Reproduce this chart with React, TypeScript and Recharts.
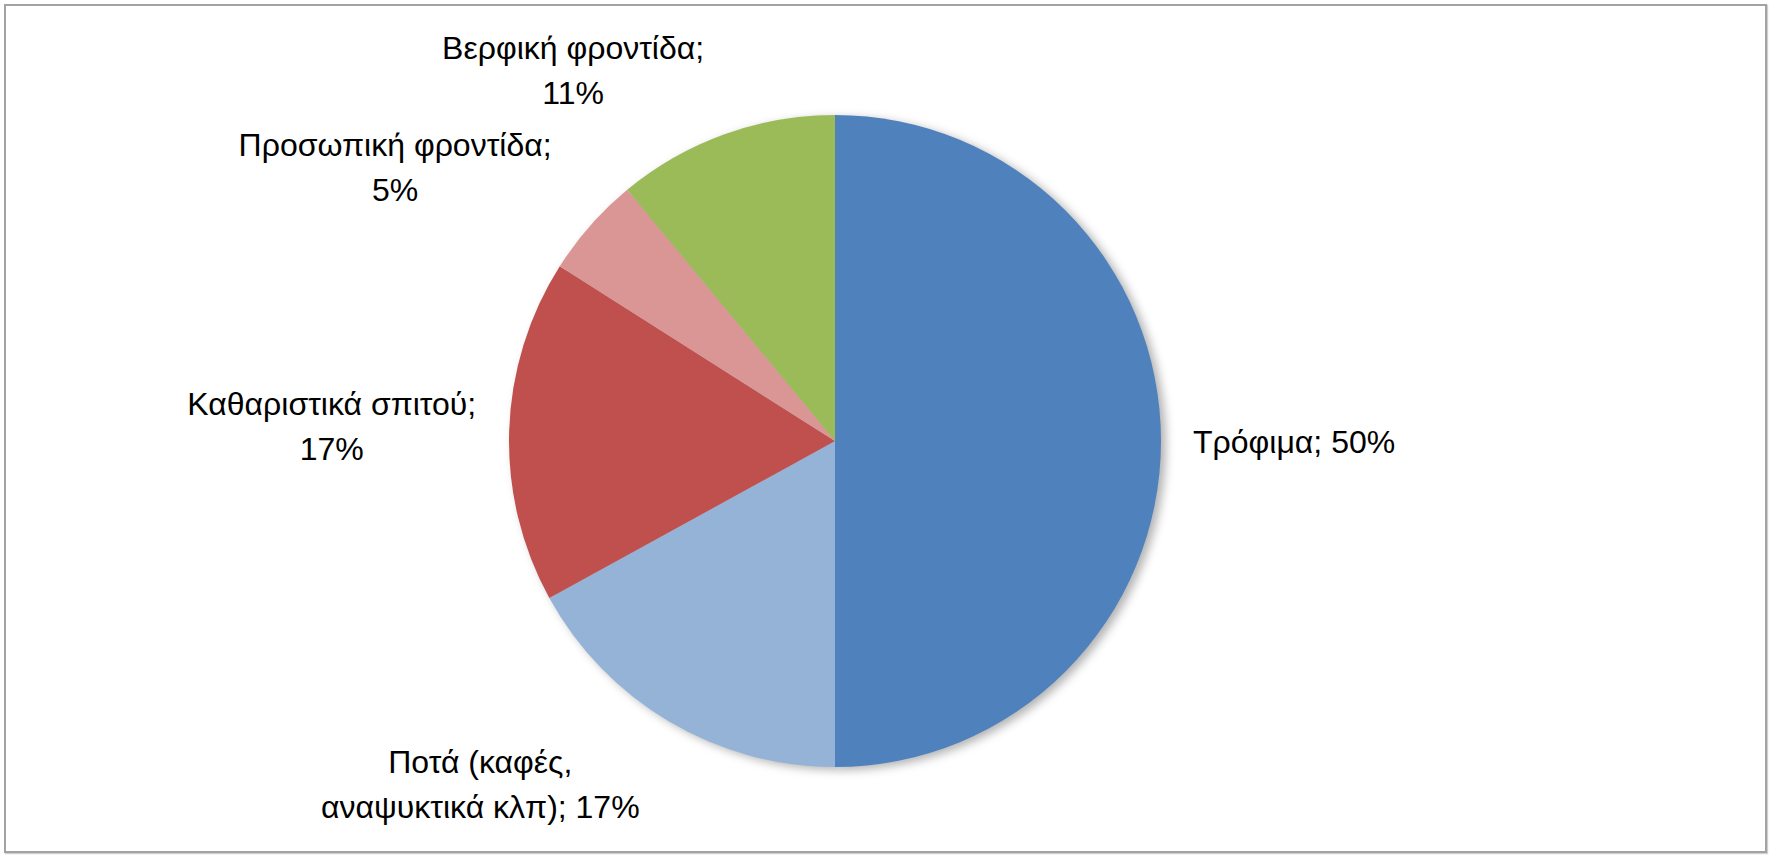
import { Cell, Pie, PieChart } from 'recharts';

// Household spending split.
const categories = [
  'Τρόφιμα',
  'Ποτά (καφές, αναψυκτικά κλπ)',
  'Καθαριστικά σπιτού',
  'Προσωπική φροντίδα',
  'Βερφική φροντίδα',
];
const shares = [50, 17, 17, 5, 11];
// Data labels as Excel wrapped them.
const labelLines = [
  ['Τρόφιμα; 50%'],
  ['Ποτά (καφές,', 'αναψυκτικά κλπ); 17%'],
  ['Καθαριστικά σπιτού;', '17%'],
  ['Προσωπική φροντίδα;', '5%'],
  ['Βερφική φροντίδα;', '11%'],
];
const colors = ['#4F81BD', '#95B3D7', '#C0504D', '#D99694', '#9BBB59'];

const data = categories.map((name, i) => ({ name, value: shares[i] }));

const W = 1769;
const H = 857;
const FONT = '"Liberation Sans", Arial, sans-serif';
const FONT_SIZE = 32;
const LINE_H = 45;

let ctx: CanvasRenderingContext2D | null = null;
function textWidth(s: string) {
  if (!ctx) {
    ctx = document.createElement('canvas').getContext('2d');
  }
  if (!ctx) return s.length * FONT_SIZE * 0.5;
  ctx.font = `${FONT_SIZE}px ${FONT}`;
  return ctx.measureText(s).width;
}

const clamp = (v: number) => Math.max(-1, Math.min(1, v));

// Outside-end label: the block sits next to a point just past the rim,
// on the side the slice faces, like Excel's best-fit labels.
function renderLabel(props: any) {
  const { cx, cy, midAngle, outerRadius, index } = props;
  const lines = labelLines[index];
  const rad = (midAngle * Math.PI) / 180;
  const cos = Math.cos(rad);
  const sin = Math.sin(rad);
  const px = cx + (outerRadius + 32 + 30 * Math.abs(sin)) * cos;
  const py = cy - (outerRadius + 20) * sin;
  const w = Math.max(...lines.map(textWidth));
  const h = lines.length * LINE_H;
  const bx = px + clamp(cos * 3) * (w / 2);
  const by = py - clamp(sin * 3) * (h / 2);
  return (
    <g key={`lbl-${index}`}>
      {lines.map((line, i) => (
        <text
          key={i}
          x={bx}
          y={by - h / 2 + i * LINE_H + LINE_H / 2 + FONT_SIZE * 0.36}
          textAnchor='middle'
          fontFamily={FONT}
          fontSize={FONT_SIZE}
          fill='#000'
        >
          {line}
        </text>
      ))}
    </g>
  );
}

export default function App() {
  return (
    <div
      style={{
        position: 'absolute',
        left: 0,
        top: 0,
        width: W,
        height: H,
        background: '#fff',
      }}
    >
      <div
        style={{
          position: 'absolute',
          left: 4,
          top: 4,
          width: 1759,
          height: 845,
          border: '2px solid #a3a3a3',
          boxShadow: '1px 1px 1px #cfcfcf',
        }}
      />
      <div style={{ position: 'absolute', left: 0, top: 0 }}>
        <PieChart
          width={W}
          height={H}
          margin={{ top: 0, right: 0, bottom: 0, left: 0 }}
        >
          <defs>
            <filter id='pieShadow' x='-20%' y='-20%' width='140%' height='140%'>
              <feGaussianBlur stdDeviation='5' />
            </filter>
          </defs>
          <Pie
            data={data}
            dataKey='value'
            cx={840}
            cy={444}
            outerRadius={326}
            startAngle={90}
            endAngle={-270}
            stroke='none'
            isAnimationActive={false}
            label={false}
            labelLine={false}
          >
            {data.map((d) => (
              <Cell
                key={`sh-${d.name}`}
                fill='#000'
                fillOpacity={0.3}
                filter='url(#pieShadow)'
              />
            ))}
          </Pie>
          <Pie
            data={data}
            dataKey='value'
            cx={835}
            cy={441}
            outerRadius={326}
            startAngle={90}
            endAngle={-270}
            stroke='none'
            isAnimationActive={false}
            label={renderLabel}
            labelLine={false}
          >
            {data.map((d, i) => (
              <Cell key={d.name} fill={colors[i]} />
            ))}
          </Pie>
        </PieChart>
      </div>
    </div>
  );
}
